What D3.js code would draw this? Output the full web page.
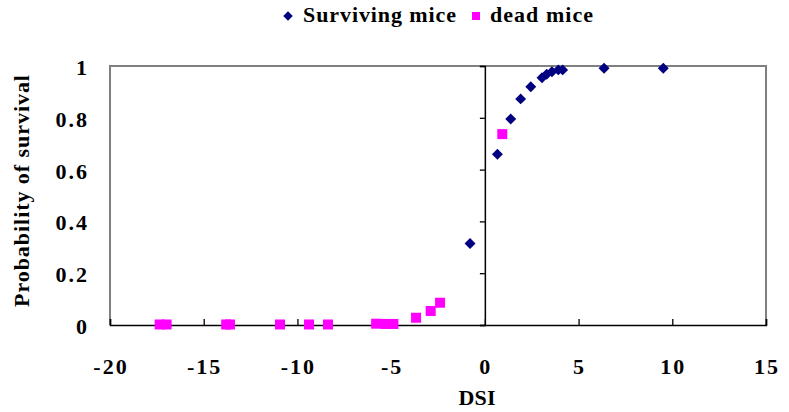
<!DOCTYPE html>
<html>
<head>
<meta charset="utf-8">
<script src="https://cdn.jsdelivr.net/npm/d3@7"></script>
<style>
  html, body { margin: 0; padding: 0; background: #fff; }
  svg { display: block; }
</style>
</head>
<body>
<script>
// ---- data ----
const survivingDSI  = [-0.79, 0.67, 1.38, 1.91, 2.45, 3.05, 3.30, 3.58, 3.92, 4.15, 6.36, 9.52];
const survivingProb = [0.315, 0.659, 0.795, 0.873, 0.920, 0.955, 0.968, 0.978, 0.985, 0.985, 0.991, 0.991];
const deadDSI  = [-17.35, -16.98, -13.80, -13.60, -10.93, -9.38, -8.37, -5.80, -5.30, -4.88, -3.67, -2.89, -2.39, 0.93];
const deadProb = [0.002, 0.002, 0.002, 0.002, 0.002, 0.002, 0.002, 0.005, 0.004, 0.004, 0.028, 0.054, 0.086, 0.737];
const xTicks = [-20, -15, -10, -5, 0, 5, 10, 15];
const yTicks = [0, 0.2, 0.4, 0.6, 0.8, 1];
const yTickLabels = ["0", "0.2", "0.4", "0.6", "0.8", "1"];
const seriesNames = ["Surviving mice", "dead mice"];
const xTitle = "DSI";
const yTitle = "Probability of survival";

const FONT = "'Liberation Serif', 'DejaVu Serif', serif";
const W = 789, H = 412;
const svg = d3.select("body").append("svg").attr("width", W).attr("height", H)
  .attr("font-family", FONT).attr("font-weight", "bold");

const x = d3.scaleLinear().domain([-20, 15]).range([110, 766]);
const y = d3.scaleLinear().domain([0, 1]).range([325, 66]);

// plot border (gray)
svg.append("path")
  .attr("d", `M${x(-20)},${y(0)}V${y(1)}H${x(15)}V${y(0)}`)
  .attr("fill", "none").attr("stroke", "#808080").attr("stroke-width", 2);

// x axis at y=0, ticks upward
const xAxis = svg.append("g").attr("transform", `translate(0,${y(0)})`)
  .call(d3.axisTop(x).tickValues(xTicks).tickSize(6).tickFormat(""));
xAxis.select(".domain").attr("stroke", "#000").attr("stroke-width", 1.5);
xAxis.selectAll(".tick line").attr("stroke", "#000").attr("stroke-width", 1.3);

// y axis at x=0, ticks to the left
const yAxis = svg.append("g").attr("transform", `translate(${x(0)},0)`)
  .call(d3.axisLeft(y).tickValues(yTicks).tickSize(5).tickFormat(""));
yAxis.select(".domain").attr("stroke", "#000").attr("stroke-width", 1.5);
yAxis.selectAll(".tick line").attr("stroke", "#000").attr("stroke-width", 1.3);

// x tick labels (below axis)
svg.append("g").selectAll("text").data(xTicks).join("text")
  .attr("x", d => x(d) + 1)
  .attr("y", 374)
  .attr("text-anchor", "middle")
  .attr("font-family", FONT).attr("font-weight", "bold")
  .attr("font-size", 22)
  .attr("letter-spacing", "2px")
  .text(d => String(d));

// y tick labels (at left, low position)
svg.append("g").selectAll("text").data(yTicks).join("text")
  .attr("x", 89)
  .attr("y", d => y(d) + 9)
  .attr("text-anchor", "end")
  .attr("font-family", FONT).attr("font-weight", "bold")
  .attr("font-size", 22)
  .attr("letter-spacing", "2px")
  .text((d, i) => yTickLabels[i]);

// axis titles
svg.append("text").attr("x", 477).attr("y", 405).attr("text-anchor", "middle")
  .attr("font-family", FONT).attr("font-weight", "bold")
  .attr("font-size", 22).attr("textLength", 37).attr("lengthAdjust", "spacing").text(xTitle);
svg.append("text").attr("transform", "translate(29,191) rotate(-90)").attr("text-anchor", "middle")
  .attr("font-family", FONT).attr("font-weight", "bold")
  .attr("font-size", 22).attr("textLength", 232).attr("lengthAdjust", "spacing").text(yTitle);

const diamond = d3.symbol().type(d3.symbolSquare).size(60);

// dead mice squares
const dead = deadDSI.map((v, i) => ({ x: v, y: deadProb[i] }));
svg.append("g").selectAll("rect").data(dead).join("rect")
  .attr("x", d => x(d.x) - 5).attr("y", d => y(d.y) - 5)
  .attr("width", 10).attr("height", 10).attr("fill", "#ff00ff");

// surviving diamonds
const surv = survivingDSI.map((v, i) => ({ x: v, y: survivingProb[i] }));
svg.append("g").selectAll("path").data(surv).join("path")
  .attr("d", diamond)
  .attr("transform", d => `translate(${x(d.x)},${y(d.y)}) rotate(45)`)
  .attr("fill", "#000080");

// legend
const leg = svg.append("g");
leg.append("path").attr("d", d3.symbol().type(d3.symbolSquare).size(45))
  .attr("transform", "translate(288,16) rotate(45)").attr("fill", "#000080");
leg.append("text").attr("x", 303).attr("y", 22).attr("font-size", 22)
  .attr("font-family", FONT).attr("font-weight", "bold")
  .attr("textLength", 153).attr("lengthAdjust", "spacing").text(seriesNames[0]);
leg.append("rect").attr("x", 472).attr("y", 12).attr("width", 8).attr("height", 8).attr("fill", "#ff00ff");
leg.append("text").attr("x", 490).attr("y", 22).attr("font-size", 22)
  .attr("font-family", FONT).attr("font-weight", "bold")
  .attr("textLength", 103).attr("lengthAdjust", "spacing").text(seriesNames[1]);
</script>
</body>
</html>
